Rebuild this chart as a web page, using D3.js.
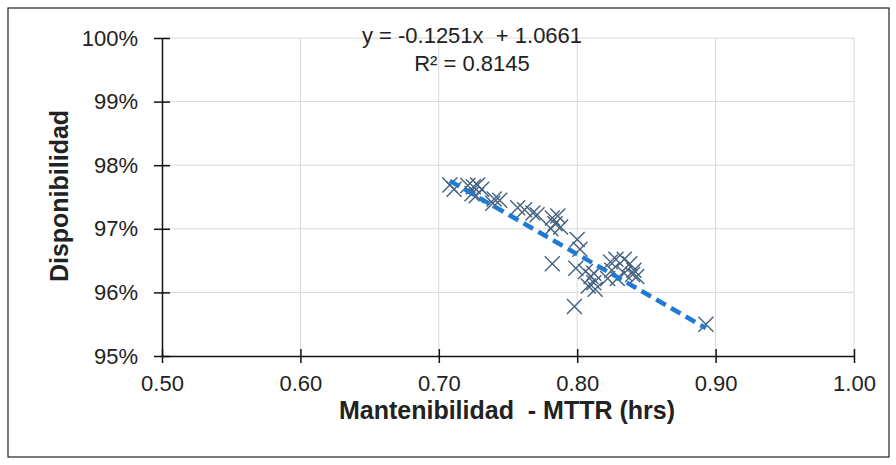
<!DOCTYPE html>
<html>
<head>
<meta charset="utf-8">
<script src="https://cdn.jsdelivr.net/npm/d3@7"></script>
<style>
  body { margin: 0; background: #fff; }
  text { font-family: "Liberation Sans", Arial, sans-serif; fill: #222; }
</style>
</head>
<body>
<svg id="chart" width="896" height="465"></svg>
<script>
// MTTR (hrs)
const mttr = [0.708, 0.711, 0.721, 0.725, 0.728, 0.731, 0.724, 0.727, 0.740, 0.744,
              0.739, 0.757, 0.762, 0.768, 0.771, 0.782, 0.786, 0.784, 0.788, 0.781,
              0.782, 0.800, 0.802, 0.799, 0.806, 0.810, 0.812, 0.813, 0.808, 0.798,
              0.812, 0.824, 0.828, 0.834, 0.838, 0.841, 0.825, 0.834, 0.840, 0.843,
              0.829, 0.822, 0.893];
// Disponibilidad (fraction)
const disp = [0.9769, 0.9762, 0.9768, 0.9766, 0.9769, 0.9762, 0.9755, 0.9752, 0.9747, 0.9745,
              0.9740, 0.9733, 0.9730, 0.9725, 0.9722, 0.9717, 0.9720, 0.9708, 0.9703, 0.9700,
              0.9645, 0.9683, 0.9668, 0.9638, 0.9633, 0.9625, 0.9615, 0.9605, 0.9610, 0.9578,
              0.9630, 0.9648, 0.9652, 0.9652, 0.9645, 0.9635, 0.9635, 0.9630, 0.9628, 0.9625,
              0.9622, 0.9622, 0.9550];

const xTicks = [0.5, 0.6, 0.7, 0.8, 0.9, 1.0];
const yTicks = [0.95, 0.96, 0.97, 0.98, 0.99, 1.0];
const slope = -0.1251, intercept = 1.0661;
const eqLines = ["y = -0.1251x  + 1.0661", "R² = 0.8145"];

const svg = d3.select("#chart");
const plotL = 162, plotR = 854, plotT = 38, plotB = 356;

const x = d3.scaleLinear().domain([0.5, 1.0]).range([plotL, plotR]);
const y = d3.scaleLinear().domain([0.95, 1.0]).range([plotB, plotT]);

// outer frame
svg.append("rect")
  .attr("x", 8).attr("y", 8).attr("width", 881).attr("height", 449)
  .attr("fill", "#fff").attr("stroke", "#222").attr("stroke-width", 1.2);

// grid
svg.append("g").selectAll("line")
  .data(yTicks.slice(1)).enter().append("line")
  .attr("x1", plotL).attr("x2", plotR)
  .attr("y1", d => y(d)).attr("y2", d => y(d))
  .attr("stroke", "#d9d9d9").attr("stroke-width", 1);
svg.append("g").selectAll("line")
  .data(xTicks.slice(1)).enter().append("line")
  .attr("x1", d => x(d)).attr("x2", d => x(d))
  .attr("y1", plotT).attr("y2", plotB)
  .attr("stroke", "#d9d9d9").attr("stroke-width", 1);

// axes
const xAxis = svg.append("g")
  .attr("transform", "translate(0," + plotB + ")")
  .call(d3.axisBottom(x).tickValues(xTicks).tickFormat(d3.format(".2f")).tickSizeInner(7).tickSizeOuter(0).tickPadding(12));
const yAxis = svg.append("g")
  .attr("transform", "translate(" + plotL + ",0)")
  .call(d3.axisLeft(y).tickValues(yTicks).tickFormat(d3.format(".0%")).tickSizeInner(8).tickSizeOuter(0).tickPadding(16));

[xAxis, yAxis].forEach(a => {
  a.select(".domain").attr("stroke", "#111").attr("stroke-width", 1.5);
  a.selectAll(".tick line").attr("stroke", "#111").attr("stroke-width", 1.5);
  a.selectAll(".tick text").attr("font-size", 22).attr("fill", "#404040")
    .style("font-family", "'Liberation Sans', Arial, sans-serif");
});
// ticks cross the axis line
xAxis.selectAll(".tick line").attr("y1", -7);
yAxis.selectAll(".tick line").attr("x1", 8).attr("x2", -8);

// markers
const pts = mttr.map((m, i) => ({ m: m, d: disp[i] }));
const s = 7.5;
const marks = svg.append("g").selectAll("g").data(pts).enter().append("g")
  .attr("transform", d => "translate(" + x(d.m) + "," + y(d.d) + ")");
marks.append("path")
  .attr("d", "M" + (-s) + "," + (-s) + "L" + s + "," + s + "M" + (-s) + "," + s + "L" + s + "," + (-s))
  .attr("stroke", "#44617f").attr("stroke-width", 1.4).attr("fill", "none");

// linear trendline
const xMin = d3.min(mttr), xMax = d3.max(mttr);
svg.append("line")
  .attr("x1", x(xMin)).attr("y1", y(slope * xMin + intercept))
  .attr("x2", x(xMax)).attr("y2", y(slope * xMax + intercept))
  .attr("stroke", "#1f7ad6").attr("stroke-width", 4.5)
  .attr("stroke-dasharray", "11,6");

// equation
svg.append("g").selectAll("text").data(eqLines).enter().append("text")
  .attr("x", 472).attr("y", (d, i) => 43 + i * 28)
  .attr("text-anchor", "middle").attr("font-size", 22).attr("fill", "#404040")
  .style("white-space", "pre")
  .text(d => d);

// axis titles
svg.append("text")
  .attr("x", 507).attr("y", 419)
  .attr("text-anchor", "middle").attr("font-size", 25).attr("font-weight", "bold")
  .style("white-space", "pre")
  .text("Mantenibilidad  - MTTR (hrs)");
svg.append("text")
  .attr("transform", "translate(68,196) rotate(-90)")
  .attr("text-anchor", "middle").attr("font-size", 25).attr("font-weight", "bold")
  .text("Disponibilidad");
</script>
</body>
</html>
